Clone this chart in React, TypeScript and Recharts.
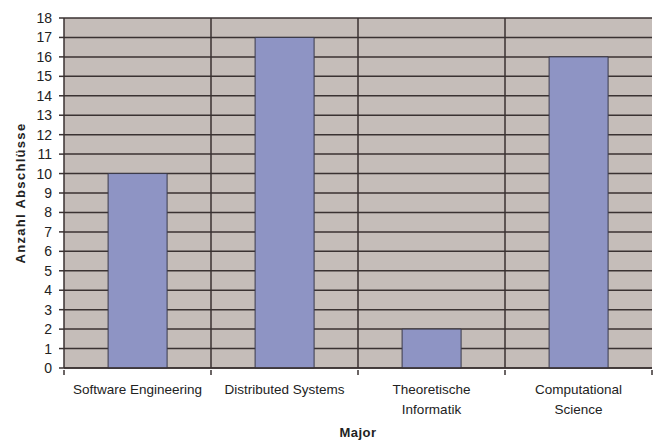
import { BarChart, Bar, XAxis, YAxis, CartesianGrid, Label } from 'recharts'

const majors = ['Software Engineering', 'Distributed Systems', 'Theoretische\nInformatik', 'Computational\nScience']
const abschluesse = [10, 17, 2, 16]
const yTicks = [0, 1, 2, 3, 4, 5, 6, 7, 8, 9, 10, 11, 12, 13, 14, 15, 16, 17, 18]

const data = majors.map((major, i) => ({ major, count: abschluesse[i] }))

const FONT = 'Liberation Sans, Arial, sans-serif'
const LINE = '#3a3232'

const CategoryTick = (props: any) => {
  const { x, y, payload, index } = props
  const half = payload?.offset || 73.5
  const lines = String(payload.value).split('\n')
  return (
    <g>
      {index === 0 && <line x1={x - half} y1={y} x2={x - half} y2={y + 5} stroke={LINE} strokeWidth={1.5} />}
      <line x1={x + half} y1={y} x2={x + half} y2={y + 5} stroke={LINE} strokeWidth={1.5} />
      <text x={x} y={y + 24} textAnchor="middle" fontSize={13.5} fill="#222" fontFamily={FONT}>
        {lines.map((l, i) => (
          <tspan key={i} x={x} dy={i === 0 ? 0 : 20}>{l}</tspan>
        ))}
      </text>
    </g>
  )
}

export default function App() {
  return (
    <div style={{ position: 'absolute', left: 0, top: 0, background: '#fff' }}>
      <BarChart
        width={655}
        height={441}
        data={data}
        margin={{ top: 18, right: 3, bottom: 0, left: 0 }}
        barCategoryGap="30%"
      >
        <CartesianGrid
          fill="#c5bdb9"
          stroke={LINE}
          strokeWidth={1.5}
          strokeOpacity={1}
          verticalCoordinatesGenerator={({ offset }: any) =>
            [1, 2, 3].map(i => offset.left + (i * offset.width) / majors.length)
          }
        />
        <XAxis
          dataKey="major"
          interval={0}
          tickLine={false}
          axisLine={{ stroke: LINE, strokeWidth: 1.5 }}
          tick={<CategoryTick />}
          tickSize={0}
          height={73}
        >
          <Label value="Major" position="insideBottom" offset={4} style={{ fontFamily: FONT, fontWeight: 700, fontSize: 13, letterSpacing: 0.5, fill: '#222' }} />
        </XAxis>
        <YAxis
          width={64}
          domain={[0, 18]}
          ticks={yTicks}
          interval={0}
          tickSize={5}
          tickMargin={7}
          tickLine={{ stroke: LINE, strokeWidth: 1.5 }}
          axisLine={{ stroke: LINE, strokeWidth: 1.5 }}
          tick={{ fontSize: 14, fill: '#222', fontFamily: FONT }}
        >
          <Label
            value="Anzahl Abschlüsse"
            angle={-90}
            position="insideLeft"
            offset={20}
            style={{ textAnchor: 'middle', fontFamily: FONT, fontWeight: 700, fontSize: 13, letterSpacing: 1.3, fill: '#222' }}
          />
        </YAxis>
        <Bar dataKey="count" fill="#8e94c4" stroke="#3a3a4a" strokeWidth={1} isAnimationActive={false} />
      </BarChart>
    </div>
  )
}
